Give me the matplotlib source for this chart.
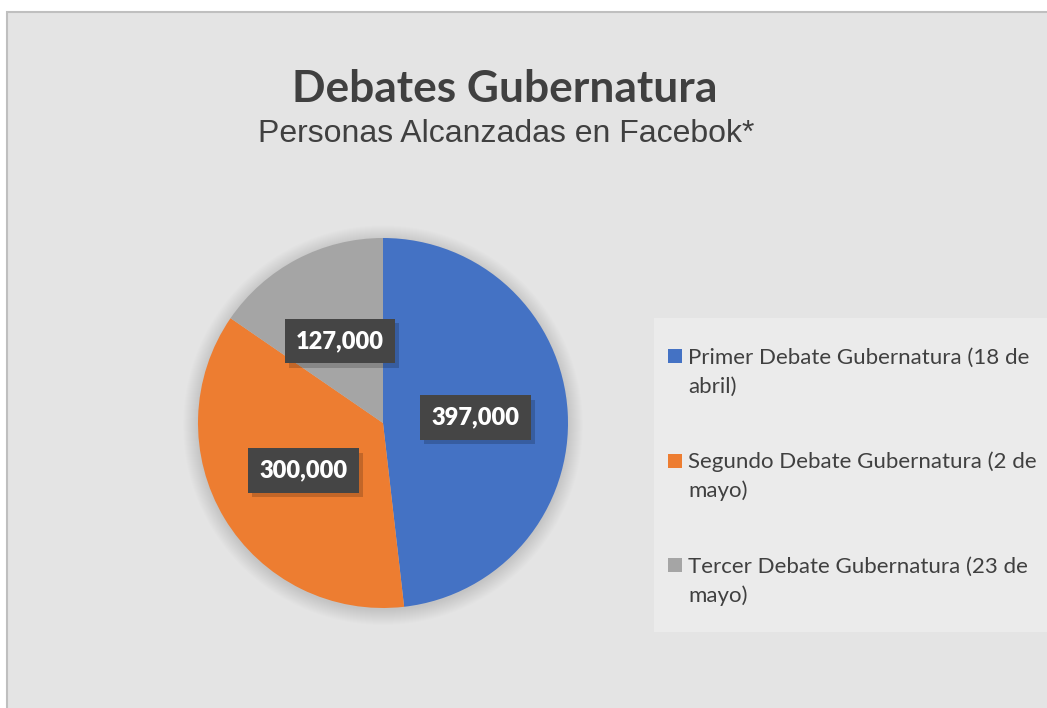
import numpy as np
import matplotlib
matplotlib.use('Agg')
import matplotlib.pyplot as plt
from matplotlib.patches import Rectangle, Circle
import matplotlib.patheffects as pe

# --------------- #
# Chart data      #
# --------------- #
categories = ['Primer Debate Gubernatura (18 de\nabril)',
              'Segundo Debate Gubernatura (2 de\nmayo)',
              'Tercer Debate Gubernatura (23 de\nmayo)']
reach = [397000, 300000, 127000]
colors = ['#4472C4', '#ED7D31', '#A5A5A5']

title = 'Debates Gubernatura'
subtitle = 'Personas Alcanzadas en Facebok*'

text_color = '#404040'
W, H = 1047, 708


def fx(x):
    return x / W


def fy(y):
    return 1 - y / H


fig = plt.figure(figsize=(W / 100, H / 100), dpi=100, facecolor='white')

# chart area with grey border
fig.patches.append(Rectangle((fx(7), fy(760)), fx(1100), 760 / H - 12 / H,
                             transform=fig.transFigure, facecolor='#e4e4e4',
                             edgecolor='#bfbfbf', linewidth=1.5, zorder=-2))

# titles
fig.text(fx(505), fy(102), title, ha='center', va='baseline',
         fontsize=31.9, fontweight='bold', family='Lato', color=text_color)
fig.text(fx(506), fy(142), subtitle, ha='center', va='baseline',
         fontsize=23, family='Liberation Sans', color=text_color)

# pie axes, centre (383, 423) px, radius 185 px
R = 185
lim = 1.15
half = R * lim
ax = fig.add_axes([fx(383 - half), fy(423 + half), 2 * half / W, 2 * half / H])
ax.patch.set_visible(False)
ax.axis('off')

# soft shadow round the pie
for r in np.linspace(1.0, 1.08, 16):
    ax.add_patch(Circle((0.0, -0.012), r, facecolor='black', alpha=0.008,
                        linewidth=0, zorder=0))

wedges, _ = ax.pie(reach, colors=colors, startangle=90, counterclock=False,
                   radius=1, wedgeprops=dict(linewidth=0, zorder=2))
ax.set_xlim(-lim, lim)
ax.set_ylim(-lim, lim)

# value labels in dark boxes, halfway out along each wedge
for w, v in zip(wedges, reach):
    ang = np.deg2rad((w.theta1 + w.theta2) / 2)
    t = ax.text(0.5 * np.cos(ang), 0.5 * np.sin(ang), f'{v:,}',
                ha='center', va='center', fontsize=17, fontweight='heavy',
                family='Lato', color='white', zorder=5,
                bbox=dict(boxstyle='square,pad=0.48', facecolor='#454545',
                          edgecolor='none', linewidth=0))
    t.get_bbox_patch().set_path_effects(
        [pe.SimplePatchShadow(offset=(3, -3), shadow_rgbFace='black', alpha=0.18),
         pe.Normal()])

# legend panel
fig.patches.append(Rectangle((fx(654), fy(632)), fx(500), (632 - 318) / H,
                             transform=fig.transFigure, facecolor='#ebebeb',
                             edgecolor='none', zorder=1))
sq = 14
square_tops = [349, 454, 558]
baselines = [364, 468, 573]
for lab, c, top, base in zip(categories, colors, square_tops, baselines):
    fig.patches.append(Rectangle((fx(668), fy(top + sq)), sq / W, sq / H,
                                 transform=fig.transFigure, facecolor=c,
                                 edgecolor='none', zorder=2))
    first, second = lab.split('\n')
    fig.text(fx(688), fy(base), first, ha='left', va='baseline',
             fontsize=16, family='Lato', color=text_color, zorder=3)
    fig.text(fx(688), fy(base + 29), second, ha='left', va='baseline',
             fontsize=16, family='Lato', color=text_color, zorder=3)

fig.savefig('out.png', dpi=100, facecolor='white')
